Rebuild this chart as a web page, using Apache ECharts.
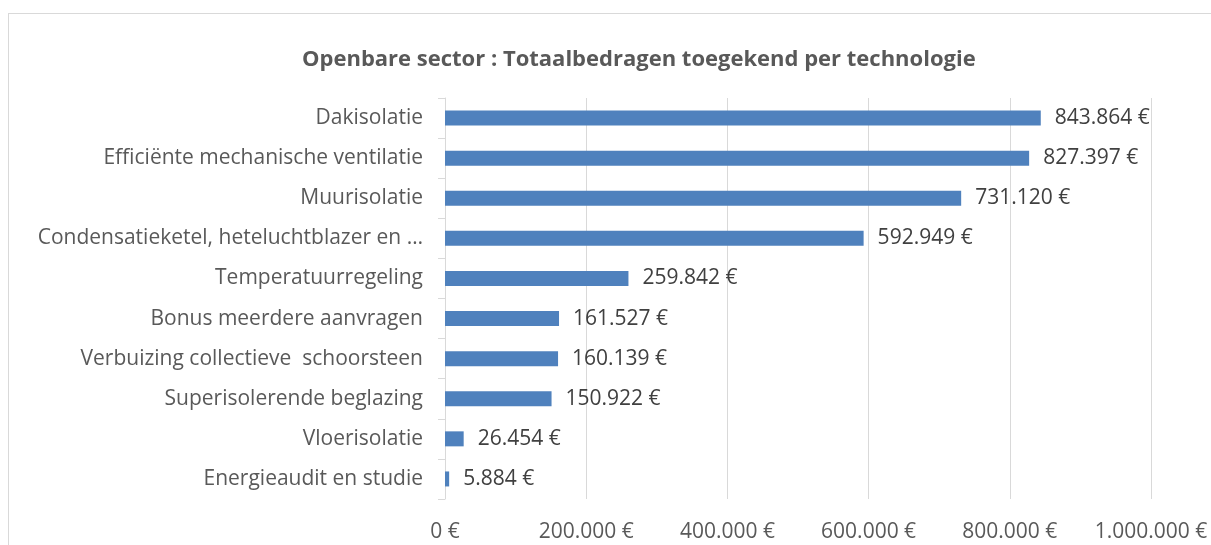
<!DOCTYPE html>
<html><head><meta charset="utf-8">
<script src="https://cdn.jsdelivr.net/npm/echarts@6/dist/echarts.min.js"></script>
<style>
html,body{margin:0;padding:0;background:#fff;overflow:hidden;}
#frame{position:absolute;left:8px;top:13px;width:1400px;height:800px;border:1px solid #d9d9d9;box-sizing:border-box;}
#chart{position:absolute;left:0;top:0;width:1211px;height:545px;}
</style></head>
<body>
<div id="frame"></div>
<div id="chart"></div>
<script>
var titleText = 'Openbare sector : Totaalbedragen toegekend per technologie';
var categories = ['Dakisolatie','Efficiënte mechanische ventilatie','Muurisolatie','Condensatieketel, heteluchtblazer en …','Temperatuurregeling','Bonus meerdere aanvragen','Verbuizing collectieve  schoorsteen','Superisolerende beglazing','Vloerisolatie','Energieaudit en studie'];
var values = [843864, 827397, 731120, 592949, 259842, 161527, 160139, 150922, 26454, 5884];

function fmt(v){
  return String(Math.round(v)).replace(/\B(?=(\d{3})+(?!\d))/g, '.') + ' €';
}
var font = '"Open Sans", "Noto Sans", sans-serif';
var chart = echarts.init(document.getElementById('chart'), null, {renderer:'canvas'});
chart.setOption({
  animation:false,
  backgroundColor:'transparent',
  title:{text:titleText,left:297,top:44,textStyle:{fontFamily:font,fontSize:22,fontWeight:'bold',color:'#595959'}},
  grid:{left:445,right:60,top:98,bottom:46,containLabel:false},
  xAxis:{type:'value',min:0,max:1000000,interval:200000,
    axisLine:{show:false},axisTick:{show:false},
    splitLine:{lineStyle:{color:'#d9d9d9',width:1}},
    axisLabel:{formatter:fmt,color:'#595959',fontFamily:font,fontSize:21,margin:23}},
  yAxis:{type:'category',inverse:true,data:categories,
    axisLine:{lineStyle:{color:'#d9d9d9'}},
    axisTick:{show:true,length:7,lineStyle:{color:'#d9d9d9'}},
    axisLabel:{color:'#595959',fontFamily:font,fontSize:21,margin:22}},
  series:[{type:'bar',data:values,barWidth:15,itemStyle:{color:'#4f81bd'},
    label:{show:true,position:'right',distance:14,formatter:function(p){return fmt(p.value);},color:'#404040',fontFamily:font,fontSize:21}}]
});
</script>
</body></html>
